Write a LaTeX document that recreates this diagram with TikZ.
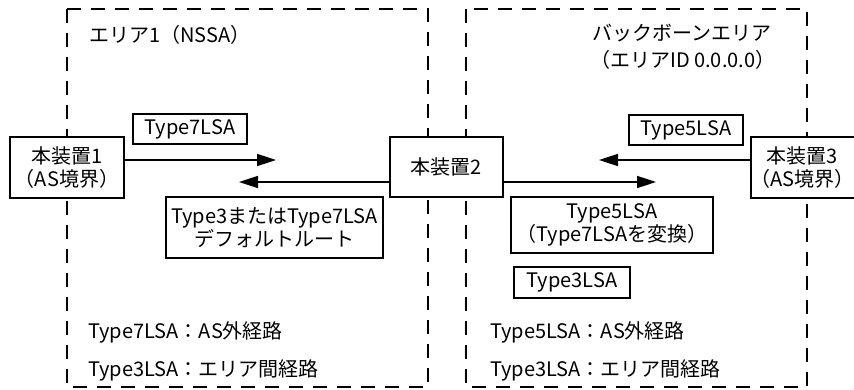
\documentclass[tikz,border=0pt]{standalone}
\usepackage{fontspec}
\setmainfont{Noto Sans CJK JP}
\usetikzlibrary{arrows.meta}
\begin{document}
\begin{tikzpicture}[x=1pt,y=-1pt,
  every node/.style={font=\fontsize{20}{22.5}\selectfont, inner sep=0pt},
  area/.style={draw, line width=1.6pt, dash pattern=on 14pt off 10pt},
  dev/.style={draw, line width=1.6pt, fill=white, align=center},
  lsa/.style={draw, line width=1.6pt, fill=white, align=center},
  arr/.style={line width=1.6pt, -{Triangle[length=19pt,width=12pt]}},
  note/.style={anchor=west}]
\clip (0,0) rectangle (854,390);
\fill[white] (0,0) rectangle (854,390);
% areas
\draw[area] (67,9) rectangle (428,387);
\draw[area] (466,9) rectangle (807,387);
% area titles
\node[note] (tA1) at (89,35) {エリア1（NSSA）};
\node[note] (tBB1) at (592,33) {バックボーンエリア};
\node[note] (tBB2) at (590,60) {（エリアID 0.0.0.0）};
% devices
\node[dev, minimum width=114pt, minimum height=61pt] (n1) at (67,167.5) {本装置1\\（AS境界）};
\node[dev, minimum width=113pt, minimum height=60pt] (n2) at (446.5,167) {本装置2};
\node[dev, minimum width=106pt, minimum height=61pt] (n3) at (804,167.5) {};
\node[align=center] (n3t) at (802.5,167.5) {本装置3\\（AS境界）};
% LSA labels
\node[lsa, minimum width=114pt, minimum height=30pt] (l7) at (190,129) {Type7LSA};
\node[lsa, minimum width=114pt, minimum height=30pt] (l5) at (686,130) {Type5LSA};
\node[lsa, minimum width=217pt, minimum height=61pt] (l37) at (274.5,227.5) {Type3またはType7LSA\\デフォルトルート};
\node[lsa, minimum width=202pt, minimum height=56pt] (l5c) at (612,225) {Type5LSA\\（Type7LSAを変換）};
\node[lsa, minimum width=116pt, minimum height=31pt] (l3) at (572,282.5) {Type3LSA};
% arrows
\coordinate (a1) at (276,160);
\coordinate (a2) at (239,182);
\coordinate (a3) at (599,160);
\coordinate (a4) at (656,182);
\draw[arr] (n1.east |- a1) -- (a1);
\draw[arr] (n2.west |- a2) -- (a2);
\draw[arr] (n3.west |- a3) -- (a3);
\draw[arr] (n2.east |- a4) -- (a4);
% legends
\node[note] (g1) at (88,332) {Type7LSA：AS外経路};
\node[note] (g2) at (88,370) {Type3LSA：エリア間経路};
\node[note] (g3) at (490,332) {Type5LSA：AS外経路};
\node[note] (g4) at (490,370) {Type3LSA：エリア間経路};
\end{tikzpicture}
\end{document}
